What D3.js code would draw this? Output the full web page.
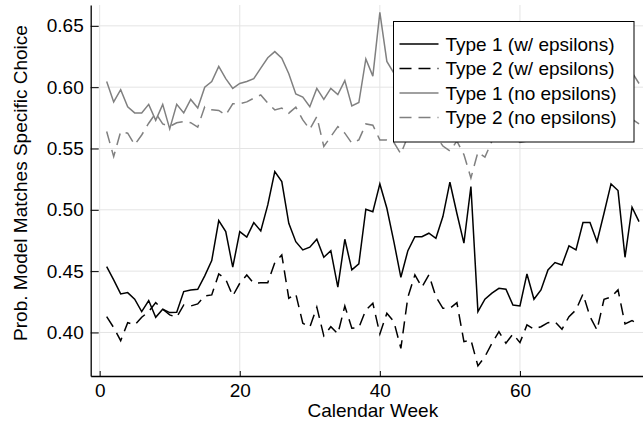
<!DOCTYPE html>
<html>
<head>
<meta charset="utf-8">
<script src="https://cdn.jsdelivr.net/npm/d3@7"></script>
<style>
  body { margin: 0; background: #fff; }
  svg { display: block; font-family: "Liberation Sans", Arial, sans-serif; }
</style>
</head>
<body>
<div class="line-chart-card"></div>
<script>
// weekly probabilities, weeks 1..77
let weeks = d3.range(1, 78);

let type1Eps = [0.4537, 0.4428, 0.4314, 0.4325, 0.4271, 0.417, 0.426, 0.4124, 0.4189, 0.4162,
    0.4165, 0.4333, 0.4346, 0.4352, 0.4461, 0.4586, 0.4912, 0.4822, 0.4532, 0.4822,
    0.4777, 0.4896, 0.4828, 0.504, 0.5312, 0.523, 0.489, 0.474, 0.4673, 0.4695,
    0.476, 0.4613, 0.4667, 0.4369, 0.476, 0.451, 0.4559, 0.5005, 0.4985, 0.5211,
    0.5013, 0.474, 0.445, 0.4667, 0.4781, 0.4781, 0.4809, 0.4768, 0.4945, 0.5225,
    0.497, 0.4728, 0.519, 0.417, 0.4271, 0.432, 0.436, 0.4352, 0.4224, 0.4216,
    0.4477, 0.4271, 0.4347, 0.451, 0.457, 0.455, 0.4706, 0.4673, 0.4896, 0.4896,
    0.474, 0.4972, 0.5211, 0.5157, 0.4613, 0.5021, 0.4904];

let type2Eps = [0.4129, 0.404, 0.3933, 0.408, 0.4061, 0.4124, 0.417, 0.4243, 0.4189, 0.4143,
    0.4124, 0.4224, 0.4216, 0.4233, 0.4298, 0.4306, 0.4477, 0.4434, 0.4298, 0.4401,
    0.4469, 0.4401, 0.4406, 0.4406, 0.457, 0.4632, 0.4279, 0.4314, 0.4075, 0.4042,
    0.4206, 0.3972, 0.4047, 0.3988, 0.4216, 0.4034, 0.404, 0.4183, 0.4238, 0.3988,
    0.4157, 0.4088, 0.3871, 0.4288, 0.4469, 0.4369, 0.4469, 0.4292, 0.4197, 0.4197,
    0.4243, 0.3925, 0.3939, 0.3727, 0.3803, 0.3912, 0.4006, 0.3912, 0.3988, 0.3917,
    0.4061, 0.4026, 0.4047, 0.408, 0.4088, 0.4026, 0.4129, 0.4184, 0.4314, 0.4129,
    0.402, 0.4271, 0.4288, 0.4347, 0.4069, 0.4096, 0.4069];

let type1NoEps = [0.6046, 0.588, 0.598, 0.584, 0.579, 0.579, 0.586, 0.573, 0.586, 0.566,
    0.586, 0.579, 0.590, 0.583, 0.600, 0.6046, 0.617, 0.607, 0.599, 0.603,
    0.6046, 0.607, 0.6155, 0.624, 0.629, 0.6236, 0.611, 0.5945, 0.592, 0.584,
    0.599, 0.590, 0.599, 0.594, 0.6054, 0.5847, 0.5875, 0.623, 0.609, 0.661,
    0.621, 0.6114, 0.598, 0.606, 0.612, 0.604, 0.600, 0.608, 0.614, 0.628,
    0.606, 0.596, 0.622, 0.584, 0.590, 0.596, 0.598, 0.592, 0.588, 0.590,
    0.602, 0.594, 0.598, 0.606, 0.610, 0.608, 0.616, 0.612, 0.622, 0.620,
    0.610, 0.618, 0.630, 0.624, 0.604, 0.612, 0.603];

let type2NoEps = [0.5638, 0.5434, 0.5638, 0.5625, 0.553, 0.561, 0.5706, 0.5788, 0.570, 0.568,
    0.571, 0.572, 0.571, 0.5674, 0.584, 0.5815, 0.581, 0.5774, 0.5864, 0.5864,
    0.588, 0.591, 0.5937, 0.587, 0.5815, 0.583, 0.5788, 0.5837, 0.5733, 0.5657,
    0.576, 0.5516, 0.5597, 0.5679, 0.5625, 0.5543, 0.557, 0.570, 0.569, 0.557,
    0.557, 0.555, 0.5456, 0.560, 0.566, 0.562, 0.558, 0.560, 0.552, 0.548,
    0.556, 0.545, 0.526, 0.547, 0.543, 0.556, 0.562, 0.566, 0.560, 0.555,
    0.556, 0.568, 0.570, 0.562, 0.558, 0.560, 0.566, 0.572, 0.575, 0.568,
    0.566, 0.572, 0.576, 0.578, 0.570, 0.574, 0.570];

let seriesNames = ["Type 1 (w/ epsilons)", "Type 2 (w/ epsilons)", "Type 1 (no epsilons)", "Type 2 (no epsilons)"];
let xTicks = [0, 20, 40, 60];
let yTicks = [0.40, 0.45, 0.50, 0.55, 0.60, 0.65];

let width = 643, height = 423;
let plotLeft = 90.7, plotRight = 655, plotTop = 5, plotBottom = 376;

let series = [
    { name: seriesNames[0], values: type1Eps, color: "#000000", dash: null },
    { name: seriesNames[1], values: type2Eps, color: "#000000", dash: "12,7" },
    { name: seriesNames[2], values: type1NoEps, color: "#808080", dash: null },
    { name: seriesNames[3], values: type2NoEps, color: "#808080", dash: "12,7" }
];

let svg = d3.select(".line-chart-card")
    .append("svg")
    .attr("width", width)
    .attr("height", height);

svg.append("rect")
    .attr("width", width)
    .attr("height", height)
    .attr("fill", "#fff");

let xScale = d3.scaleLinear()
    .domain([-1.28, 79.28])
    .range([plotLeft, plotRight]);

let yScale = d3.scaleLinear()
    .domain([0.3645, 0.667])
    .range([plotBottom, plotTop]);

// grid
svg.append("g")
    .selectAll("line")
    .data(xTicks)
    .enter()
    .append("line")
    .attr("x1", d => xScale(d))
    .attr("x2", d => xScale(d))
    .attr("y1", plotTop)
    .attr("y2", plotBottom)
    .attr("stroke", "#e4e4e4")
    .attr("stroke-width", 1);

svg.append("g")
    .selectAll("line")
    .data(yTicks)
    .enter()
    .append("line")
    .attr("x1", plotLeft)
    .attr("x2", plotRight)
    .attr("y1", d => yScale(d))
    .attr("y2", d => yScale(d))
    .attr("stroke", "#e4e4e4")
    .attr("stroke-width", 1);

// lines
let line = d3.line()
    .x((d, i) => xScale(weeks[i]))
    .y(d => yScale(d));

svg.append("g")
    .selectAll("path")
    .data(series)
    .enter()
    .append("path")
    .attr("d", d => line(d.values))
    .attr("fill", "none")
    .attr("stroke", d => d.color)
    .attr("stroke-width", 1.5)
    .attr("stroke-dasharray", d => d.dash)
    .attr("stroke-linejoin", "miter");

// axes
let xAxis = svg.append("g")
    .attr("transform", "translate(0," + plotBottom + ")")
    .call(d3.axisBottom(xScale)
        .tickValues(xTicks)
        .tickFormat(d3.format("d"))
        .tickSizeInner(-5)
        .tickSizeOuter(0)
        .tickPadding(8));

let yAxis = svg.append("g")
    .attr("transform", "translate(" + plotLeft + ",0)")
    .call(d3.axisLeft(yScale)
        .tickValues(yTicks)
        .tickFormat(d3.format(".2f"))
        .tickSizeInner(-8)
        .tickSizeOuter(0)
        .tickPadding(7));

[xAxis, yAxis].forEach(g => {
    g.selectAll("path").attr("stroke", "#000").attr("stroke-width", 1.3);
    g.selectAll("line").attr("stroke", "#000").attr("stroke-width", 1);
    g.selectAll("text")
        .attr("fill", "#000")
        .style("font-size", "19px")
        .style("font-family", "'Liberation Sans', Arial, sans-serif");
});

// axis titles
svg.append("text")
    .attr("x", (plotLeft + plotRight) / 2)
    .attr("y", 417)
    .attr("text-anchor", "middle")
    .style("font-size", "19px")
    .text("Calendar Week");

svg.append("text")
    .attr("transform", "translate(27,183) rotate(-90)")
    .attr("text-anchor", "middle")
    .style("font-size", "19px")
    .text("Prob. Model Matches Specific Choice");

// legend
let legend = svg.append("g")
    .attr("transform", "translate(393.5,21.5)");

legend.append("rect")
    .attr("width", 240.5)
    .attr("height", 120.5)
    .attr("fill", "#fff")
    .attr("stroke", "#000")
    .attr("stroke-width", 1);

let rows = legend.selectAll("g.row")
    .data(series)
    .enter()
    .append("g")
    .attr("transform", (d, i) => "translate(0," + (22.5 + i * 24.5) + ")");

rows.append("line")
    .attr("x1", 6)
    .attr("x2", 45)
    .attr("stroke", d => d.color)
    .attr("stroke-width", 1.5)
    .attr("stroke-dasharray", d => d.dash);

rows.append("text")
    .attr("x", 52)
    .attr("dy", "0.35em")
    .style("font-size", "19px")
    .text(d => d.name);
</script>
</body>
</html>
